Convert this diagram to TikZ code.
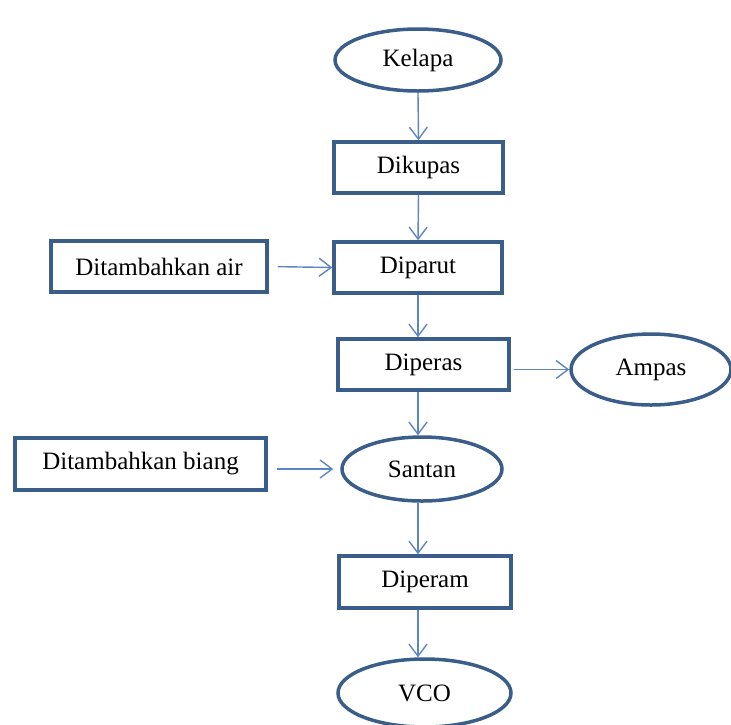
\documentclass[tikz,border=0pt]{standalone}
\usepackage{fontspec}
\setmainfont{Liberation Serif}
\usetikzlibrary{shapes.geometric,arrows.meta}
\definecolor{boxline}{HTML}{3A5D8A}
\definecolor{flowline}{HTML}{5B86C2}
\tikzset{
    proc/.style={draw=boxline,line width=3.5pt,rectangle,inner sep=0pt,
        font=\fontsize{25}{30}\selectfont},
    term/.style={draw=boxline,line width=3.5pt,ellipse,inner sep=0pt,
        font=\fontsize{25}{30}\selectfont},
    flow/.style={draw=flowline,line width=1.4pt,
        -{Straight Barb[length=12pt,width=18pt,line width=1.4pt]}}
}
\begin{document}
\begin{tikzpicture}[x=1pt,y=-1pt]
        \useasboundingbox (0,0) rectangle (731,724);
        \clip (0,0) rectangle (731,724);
        %% main column
        \node[term,minimum width=166,minimum height=62] (kelapa) at (418,60) {Kelapa};
        \node[proc,minimum width=169,minimum height=51] (dikupas) at (418.5,167.5) {Dikupas};
        \node[proc,minimum width=168,minimum height=51] (diparut) at (418,267.5) {Diparut};
        \node[proc,minimum width=171,minimum height=51] (diperas) at (423.5,364.5) {Diperas};
        \node[term,minimum width=160,minimum height=64] (santan) at (422,469) {Santan};
        \node[proc,minimum width=172,minimum height=52] (diperam) at (425,582) {Diperam};
        \node[term,minimum width=173,minimum height=68] (vco) at (424.5,693) {VCO};
        %% side nodes
        \node[proc,minimum width=216,minimum height=51] (air) at (159,266.5) {Ditambahkan air};
        \node[term,minimum width=160,minimum height=71] (ampas) at (651,369.5) {Ampas};
        \node[proc,minimum width=251,minimum height=52] (biang) at (140.5,464) {Ditambahkan biang};
        %% flow down
        \draw[flow] (kelapa.south) -- (dikupas.north);
        \draw[flow] (dikupas.south) -- (diparut.north);
        \draw[flow] (diparut.south) -- (diparut.south |- diperas.north);
        \draw[flow] (diperas.south -| diparut) -- (santan.north -| diparut);
        \draw[flow] (santan.south -| diparut) -- (diperam.north -| diparut);
        \draw[flow] (diperam.south -| diparut) -- (vco.north -| diparut);
        %% inputs and waste
        \draw[flow,shorten <=9pt] (air.east) -- (diparut.west);
        \draw[flow,shorten <=3pt] (diperas.east |- ampas.west) -- (ampas.west);
        \draw[flow,shorten <=9pt,shorten >=7pt] (biang.east |- santan.west) -- (santan.west);
    \end{tikzpicture}
\end{document}
